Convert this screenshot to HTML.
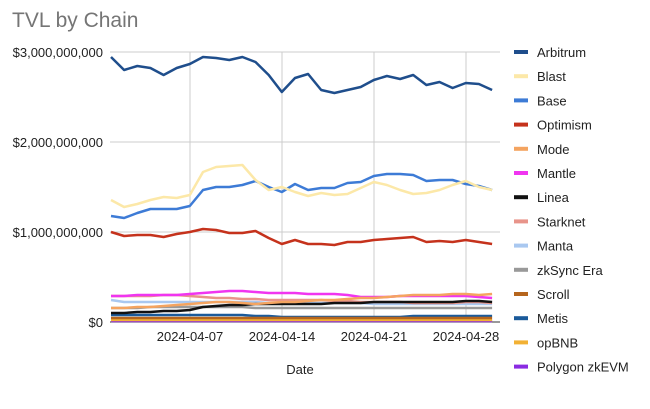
<!DOCTYPE html><html><head><meta charset="utf-8"><style>
body{margin:0;background:#fff;font-family:"Liberation Sans",Arial,sans-serif}
</style></head><body>
<svg id="s" width="650" height="404" xmlns="http://www.w3.org/2000/svg" font-family="Liberation Sans, Arial, sans-serif">
<rect width="650" height="404" fill="#fff"/>
<text x="12" y="27" font-size="21" fill="#757575">TVL by Chain</text>
<g stroke="#ccc" stroke-width="1">
<line x1="110" y1="52" x2="500" y2="52"/><line x1="110" y1="142" x2="500" y2="142"/><line x1="110" y1="232" x2="500" y2="232"/>
<line x1="190" y1="52" x2="190" y2="322"/><line x1="282" y1="52" x2="282" y2="322"/><line x1="374" y1="52" x2="374" y2="322"/><line x1="466" y1="52" x2="466" y2="322"/>
</g>
<line x1="110" y1="322" x2="500" y2="322" stroke="#333" stroke-width="1"/>
<g font-size="13" fill="#222" text-anchor="end">
<text x="103" y="57">$3,000,000,000</text><text x="103" y="147">$2,000,000,000</text><text x="103" y="237">$1,000,000,000</text><text x="103" y="327">$0</text>
</g>
<g font-size="13" fill="#222" text-anchor="middle">
<text x="190" y="341">2024-04-07</text><text x="282" y="341">2024-04-14</text><text x="374" y="341">2024-04-21</text><text x="466" y="341">2024-04-28</text>
<text x="300" y="374">Date</text>
</g>
<g id="lines" fill="none" stroke-width="2.5" stroke-linejoin="round"></g>
<g id="leg" font-size="13" fill="#222"></g>
</svg>
<script>
const S=[
["Arbitrum","#1f4e8c",[57,70,66,68,75,68,64,57,58,60,57,62,75,92,78,74,90,93,90,87,80,76,79,75,85,82,88,83,84,90]],
["Blast","#fce8a8",[200,207,204,200,197,198,195,172,167,166,165,180,190,187,192,196,193,195,194,188,182,185,190,194,193,190,185,181,187,190]],
["Base","#3d7bd6",[216,218,213,209,209,209,206,190,187,187,185,181,187,192,184,190,188,188,183,182,176,174,174,175,181,180,180,184,186,190]],
["Optimism","#c5321c",[232,236,235,235,237,234,232,229,230,233,233,231,238,244,240,244,244,245,242,242,240,239,238,237,242,241,242,240,242,244]],
["Mode","#f4a460",[308,308,307,307,306,305,304,303,302,302,303,304,303,302,302,301,300,300,299,298,298,297,296,295,295,295,294,294,295,294]],
["Mantle","#f035f0",[296,296,295,295,295,295,294,293,292,291,291,292,293,293,293,294,294,294,295,297,297,297,296,296,296,296,296,296,297,298]],
["Linea","#111111",[313,313,312,312,311,311,310,307,306,305,305,304,304,304,304,304,304,303,303,303,302,302,302,302,302,302,302,301,301,302]],
["Starknet","#e8948a",[296,296,296,296,295,295,296,297,298,298,299,299,300,300,300,300,300,301,301,302,302,302,302,303,303,303,303,302,302,303]],
["Manta","#a9c8f0",[300,302,302,302,302,302,302,302,302,302,302,302,303,303,303,303,303,303,303,303,304,304,304,304,304,304,304,304,304,304]],
["zkSync Era","#999999",[308,308,308,307,307,307,307,307,307,307,307,308,308,308,308,308,308,308,308,308,308,308,308,308,308,308,308,308,308,308]],
["Scroll","#b5651d",[318,318,318,318,318,318,318,318,318,318,318,318,318,318,318,318,318,318,318,318,318,318,318,318,318,318,318,318,318,318]],
["Metis","#1a5a9a",[315,315,315,315,315,315,315,315,315,315,315,316,316,317,317,317,317,317,317,317,317,317,317,316,316,316,316,316,316,316]],
["opBNB","#f2b134",[320,320,320,320,320,320,320,320,320,320,320,320,320,320,320,320,320,320,320,320,320,320,320,320,320,320,320,320,320,320]],
["Polygon zkEVM","#8a2be2",[321,321,321,321,321,321,321,321,321,321,321,321,321,321,321,321,321,321,321,321,321,321,321,321,321,321,321,321,321,321]]];
const L=document.getElementById('lines'),G=document.getElementById('leg'),ns="http://www.w3.org/2000/svg";
[...S].reverse().forEach(s=>{const p=document.createElementNS(ns,'polyline');p.setAttribute('points',s[2].map((y,i)=>(111+i*13.14).toFixed(1)+','+y).join(' '));p.setAttribute('stroke',s[1]);L.appendChild(p);});
S.forEach((s,i)=>{const y=52+i*24.2;const r=document.createElementNS(ns,'rect');r.setAttribute('x',514);r.setAttribute('y',y-2);r.setAttribute('width',14);r.setAttribute('height',4);r.setAttribute('fill',s[1]);G.appendChild(r);const t=document.createElementNS(ns,'text');t.setAttribute('x',537);t.setAttribute('y',y+5);t.textContent=s[0];G.appendChild(t);});
</script>
</body></html>
